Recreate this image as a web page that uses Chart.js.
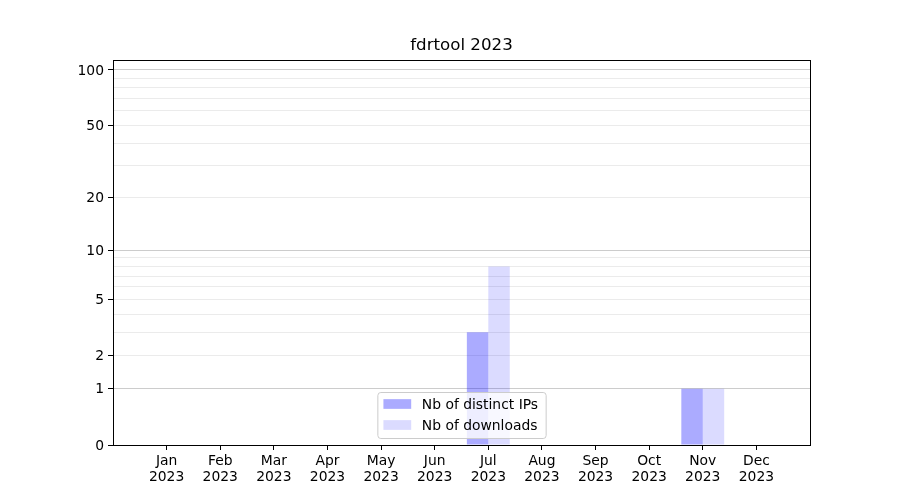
<!DOCTYPE html>
<html lang="en">
<head>
  <meta charset="UTF-8" />
  <title>fdrtool 2023</title>
  <script src="https://cdn.jsdelivr.net/npm/chart.js"></script>
  <style>
    body { margin: 0; background: #fff; }
    canvas { display: block; }
  </style>
</head>
<body>
<canvas id="dlChart" width="900" height="500"></canvas>

<script>
  // data
  const months = ["Jan", "Feb", "Mar", "Apr", "May", "Jun", "Jul", "Aug", "Sep", "Oct", "Nov", "Dec"];
  const year = "2023";
  const distinctIPs = [0, 0, 0, 0, 0, 0, 3, 0, 0, 0, 1, 0];
  const downloads   = [0, 0, 0, 0, 0, 0, 8, 0, 0, 0, 1, 0];
  const yTickLabels = [0, 1, 2, 5, 10, 20, 50, 100];
  const yMajorLines = [1, 10, 100];
  const yMinorLines = [2, 3, 4, 5, 6, 7, 8, 9, 20, 30, 40, 50, 60, 70, 80, 90];
  const yMax = 113.2;

  const FONT = "'DejaVu Sans', sans-serif";
  const FS = 13.89;
  Chart.defaults.font.family = FONT;
  Chart.defaults.font.size = FS;
  Chart.defaults.color = "#000";

  // y axis that behaves like log10(1 + v), so zero sits on the baseline
  class Log1pScale extends Chart.Scale {
    determineDataLimits() {
      this.min = this.options.min ?? 0;
      this.max = this.options.max;
    }
    buildTicks() {
      const vals = [0, ...yMajorLines, ...yMinorLines].sort((a, b) => a - b);
      return vals.map(v => ({ value: v }));
    }
    configure() {
      super.configure();
      this._lo = Math.log10(1 + this.min);
      this._hi = Math.log10(1 + this.max);
    }
    getLabelForValue(v) { return String(v); }
    getPixelForValue(v) {
      if (v === null || v === undefined || isNaN(v)) return NaN;
      return this.getPixelForDecimal((Math.log10(1 + v) - this._lo) / (this._hi - this._lo));
    }
    getValueForPixel(p) {
      const d = this.getDecimalForPixel(p);
      return Math.pow(10, this._lo + d * (this._hi - this._lo)) - 1;
    }
  }
  Log1pScale.id = "log1p";
  Log1pScale.defaults = {};
  Chart.register(Log1pScale);

  // one empty slot each side, like the reference's margins
  const labels = ["", ...months.map(m => [m, year]), ""];
  const pad = arr => [null, ...arr, null];

  const frameAndLegend = {
    id: "frameAndLegend",
    afterDatasetsDraw(chart) {
      const { ctx, chartArea: a } = chart;
      ctx.save();
      ctx.strokeStyle = "#000";
      ctx.lineWidth = 1;
      ctx.strokeRect(Math.round(a.left) + 0.5, Math.round(a.top) + 0.5,
                     Math.round(a.right - a.left), Math.round(a.bottom - a.top));
      ctx.restore();
    },
    afterDraw(chart) {
      const { ctx, chartArea: a } = chart;
      const sets = chart.data.datasets;
      ctx.save();
      ctx.font = FS + "px " + FONT;
      const textW = Math.max(...sets.map(d => ctx.measureText(d.label).width));
      const bp = 0.4 * FS, hl = 2.0 * FS, hp = 0.8 * FS;
      const w = bp * 2 + hl + hp + textW + 2;
      const h = 46;
      const x = (a.left + a.right) / 2 - w / 2;
      const y = a.bottom - 7 - h;
      ctx.beginPath();
      ctx.roundRect(x + 0.5, y + 0.5, w, h, 3);
      ctx.fillStyle = "rgba(255,255,255,0.8)";
      ctx.fill();
      ctx.strokeStyle = "#cccccc";
      ctx.lineWidth = 1;
      ctx.stroke();
      sets.forEach((d, i) => {
        const cy = y + 12 + i * 21;
        ctx.fillStyle = d.backgroundColor;
        ctx.fillRect(x + bp + 0.5, cy - 0.35 * FS, hl, 0.7 * FS);
        ctx.fillStyle = "#000";
        ctx.textBaseline = "middle";
        ctx.fillText(d.label, x + bp + hl + hp, cy + 1);
      });
      ctx.restore();
    }
  };

  new Chart(document.getElementById("dlChart"), {
    type: "bar",
    data: {
      labels: labels,
      datasets: [
        { label: "Nb of distinct IPs", data: pad(distinctIPs), backgroundColor: "rgba(0,0,255,0.33)" },
        { label: "Nb of downloads", data: pad(downloads), backgroundColor: "rgba(0,0,255,0.14)" }
      ]
    },
    options: {
      responsive: false,
      animation: false,
      layout: { padding: { left: 0, right: 90, top: 0, bottom: 0 } },
      datasets: { bar: { categoryPercentage: 0.8, barPercentage: 1.0, borderWidth: 0 } },
      plugins: {
        legend: { display: false },
        tooltip: { enabled: false },
        title: {
          display: true,
          text: "fdrtool 2023",
          fullSize: false,
          color: "#000",
          font: { size: 16.67, weight: "normal", lineHeight: 1.2 },
          padding: { top: 36, bottom: 4 }
        }
      },
      scales: {
        x: {
          type: "category",
          offset: false,
          afterFit: s => { s.height = 55; },
          grid: {
            offset: false,
            drawOnChartArea: false,
            drawTicks: true,
            tickLength: 5,
            tickColor: c => (c.index === 0 || c.index === labels.length - 1) ? "rgba(0,0,0,0)" : "#000"
          },
          border: { display: true, color: "#000", width: 1 },
          ticks: { autoSkip: false, maxRotation: 0, padding: 3, font: { lineHeight: 1.15 } }
        },
        y: {
          type: "log1p",
          min: 0,
          max: yMax,
          afterFit: s => { s.width = 113; },
          grid: {
            drawTicks: true,
            tickLength: 5,
            color: c => c.tick && yMajorLines.includes(c.tick.value) ? "#cccccc" : "#ebebeb",
            tickColor: c => c.tick && yTickLabels.includes(c.tick.value) ? "#000" : "rgba(0,0,0,0)"
          },
          border: { display: true, color: "#000", width: 1 },
          ticks: {
            autoSkip: false,
            padding: 4,
            labelOffset: 1,
            callback: v => yTickLabels.includes(v) ? String(v) : ""
          }
        }
      }
    },
    plugins: [frameAndLegend]
  });
</script>
</body>
</html>
